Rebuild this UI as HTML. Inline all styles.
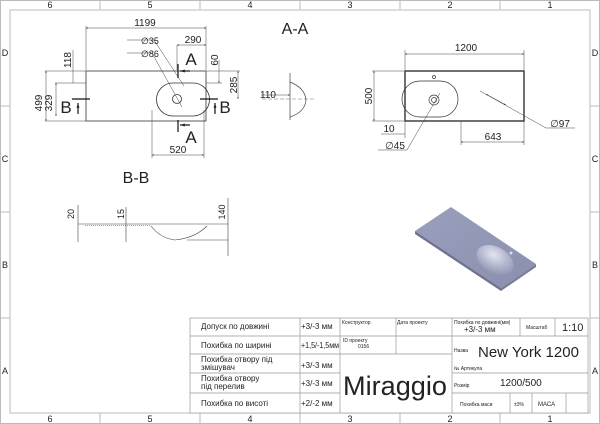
<!DOCTYPE html>
<html><head><meta charset="utf-8"><style>
html,body{margin:0;padding:0;background:#fff;width:600px;height:424px;overflow:hidden}
svg{display:block}
text{font-family:"Liberation Sans","DejaVu Sans",sans-serif;fill:#222}
</style></head><body>
<svg width="600" height="424" viewBox="0 0 600 424" xmlns="http://www.w3.org/2000/svg">
<defs>
<marker id="a" viewBox="0 0 10 10" refX="10" refY="5" markerWidth="5" markerHeight="4" orient="auto-start-reverse"><path d="M0,2 L10,5 L0,8z" fill="#222"/></marker>
<linearGradient id="g" x1="0" y1="0" x2="1" y2="1"><stop offset="0" stop-color="#9a9fbd"/><stop offset="1" stop-color="#8a8fae"/></linearGradient>
<radialGradient id="bw" cx="0.4" cy="0.35" r="0.7"><stop offset="0" stop-color="#e2e4f0"/><stop offset="1" stop-color="#8d92b0"/></radialGradient>
</defs>
<g stroke="#bbb" stroke-width="1" fill="none">
<rect x="0.5" y="0.5" width="599" height="423"/>
<rect x="10" y="10" width="580" height="403"/>
<line x1="100" y1="0" x2="100" y2="10"/><line x1="200" y1="0" x2="200" y2="10"/><line x1="300" y1="0" x2="300" y2="10"/><line x1="400" y1="0" x2="400" y2="10"/><line x1="500" y1="0" x2="500" y2="10"/>
<line x1="100" y1="413" x2="100" y2="424"/><line x1="200" y1="413" x2="200" y2="424"/><line x1="300" y1="413" x2="300" y2="424"/><line x1="400" y1="413" x2="400" y2="424"/><line x1="500" y1="413" x2="500" y2="424"/>
<line x1="0" y1="106" x2="10" y2="106"/><line x1="0" y1="212" x2="10" y2="212"/><line x1="0" y1="318" x2="10" y2="318"/>
<line x1="590" y1="106" x2="600" y2="106"/><line x1="590" y1="212" x2="600" y2="212"/><line x1="590" y1="318" x2="600" y2="318"/>
</g>
<g font-size="9" text-anchor="middle">
<text x="50" y="8">6</text><text x="150" y="8">5</text><text x="250" y="8">4</text><text x="350" y="8">3</text><text x="450" y="8">2</text><text x="550" y="8">1</text>
<text x="50" y="422">6</text><text x="150" y="422">5</text><text x="250" y="422">4</text><text x="350" y="422">3</text><text x="450" y="422">2</text><text x="550" y="422">1</text>
<text x="5" y="56">D</text><text x="5" y="162">C</text><text x="5" y="268">B</text><text x="5" y="374">A</text>
<text x="595" y="56">D</text><text x="595" y="162">C</text><text x="595" y="268">B</text><text x="595" y="374">A</text>
</g>

<g stroke="#333" stroke-width="0.8" fill="none">
<rect x="86" y="71" width="120" height="50"/>
<path d="M173,83 L193,83 A16,16 0 0 1 193,116 L173,116 A16,16 0 0 1 173,83z"/>
<circle cx="177" cy="99" r="4.5"/>
</g>
<g stroke="#444" stroke-width="0.5" fill="none">
<line x1="86" y1="26" x2="86" y2="70"/><line x1="206" y1="26" x2="206" y2="70"/>
<line x1="86" y1="28" x2="206" y2="28" marker-start="url(#a)" marker-end="url(#a)"/>
<line x1="177" y1="45" x2="206" y2="45" marker-start="url(#a)" marker-end="url(#a)"/>
<line x1="177" y1="45" x2="177" y2="70"/>
<line x1="152" y1="110" x2="152" y2="158"/><line x1="204" y1="110" x2="204" y2="158"/>
<line x1="152" y1="155" x2="204" y2="155" marker-start="url(#a)" marker-end="url(#a)"/>
<line x1="45" y1="71" x2="86" y2="71"/><line x1="45" y1="121" x2="86" y2="121"/>
<line x1="46" y1="71" x2="46" y2="121" marker-start="url(#a)" marker-end="url(#a)"/>
<line x1="55" y1="83" x2="86" y2="83"/><line x1="56" y1="83" x2="56" y2="116" marker-start="url(#a)" marker-end="url(#a)"/>
<line x1="73" y1="50" x2="73" y2="83"/>
<line x1="206" y1="71" x2="240" y2="71"/><line x1="206" y1="83" x2="222" y2="83"/>
<line x1="219" y1="60" x2="219" y2="83" marker-end="url(#a)"/>
<line x1="238" y1="71" x2="238" y2="99" marker-start="url(#a)" marker-end="url(#a)"/>
<line x1="127" y1="40" x2="154" y2="40"/><line x1="154" y1="40" x2="184" y2="86"/>
<line x1="127" y1="53" x2="152" y2="53"/><line x1="152" y1="53" x2="182" y2="107"/>
</g>
<g stroke="#111" stroke-width="1.2">
<line x1="178" y1="64" x2="178" y2="78"/><line x1="178" y1="120" x2="178" y2="132"/>
<line x1="72" y1="99" x2="90" y2="99"/><line x1="200" y1="99" x2="218" y2="99"/>
<line x1="190" y1="71" x2="180" y2="71" marker-end="url(#a)"/><line x1="190" y1="125" x2="180" y2="125" marker-end="url(#a)"/>
<line x1="78" y1="114" x2="78" y2="103" marker-end="url(#a)"/><line x1="215" y1="114" x2="215" y2="103" marker-end="url(#a)"/>
</g>
<g font-size="10" text-anchor="middle">
<text x="145" y="26">1199</text><text x="193" y="43">290</text><text x="178" y="153">520</text>
<text x="141" y="44" text-anchor="start" font-size="9">∅35</text><text x="141" y="57" text-anchor="start" font-size="9">∅86</text>
<text transform="translate(71,60) rotate(-90)">118</text>
<text transform="translate(42,103) rotate(-90)">499</text>
<text transform="translate(52,103) rotate(-90)">329</text>
<text transform="translate(218,60) rotate(-90)">60</text>
<text transform="translate(237,85) rotate(-90)">285</text>
</g>
<g font-size="17" text-anchor="middle"><text x="191" y="65">A</text><text x="191" y="143">A</text><text x="66" y="113">B</text><text x="225" y="113">B</text></g>
<text x="295" y="34" font-size="16" text-anchor="middle">A-A</text>
<text x="136" y="183" font-size="16" text-anchor="middle">B-B</text>

<g stroke="#444" stroke-width="0.7" fill="none">
<line x1="290" y1="73" x2="290" y2="120"/>
<path d="M290,82 Q305,88 306,100 Q305,112 290,117"/>
<line x1="262" y1="99" x2="314" y2="99" stroke-dasharray="4 2" stroke-width="0.4"/>
<line x1="261" y1="95" x2="290" y2="95" stroke-width="0.5" marker-end="url(#a)"/>
</g>
<text x="268" y="98" font-size="10" text-anchor="middle">110</text>

<g stroke="#444" stroke-width="0.6" fill="none">
<line x1="78" y1="224" x2="210" y2="224"/>
<line x1="85" y1="225.5" x2="150" y2="225.5" stroke-dasharray="1 1"/>
<path d="M151,226 Q160,238 175,240 Q195,238 207,226"/>
<line x1="78" y1="205" x2="78" y2="242"/><line x1="126" y1="207" x2="126" y2="242"/>
<line x1="228" y1="198" x2="228" y2="256"/><line x1="187" y1="240" x2="228" y2="240"/>
<line x1="210" y1="224" x2="228" y2="224"/>
</g>
<g font-size="9" text-anchor="middle">
<text transform="translate(74,214) rotate(-90)">20</text>
<text transform="translate(124,214) rotate(-90)">15</text>
<text transform="translate(225,212) rotate(-90)">140</text>
</g>

<g stroke="#333" stroke-width="1.4" fill="none"><rect x="405" y="71" width="119" height="50"/></g>
<g stroke="#333" stroke-width="0.7" fill="none">
<path d="M420,81 L440,81 A16,16 0 0 1 440,117 L420,117 A16,16 0 0 1 420,81z"/>
<circle cx="434" cy="77" r="1.5"/><circle cx="434" cy="100" r="5"/><circle cx="434" cy="100" r="2.5"/>
</g>
<g stroke="#444" stroke-width="0.5" fill="none">
<line x1="405" y1="50" x2="405" y2="70"/><line x1="524" y1="50" x2="524" y2="70"/>
<line x1="405" y1="54" x2="524" y2="54" marker-start="url(#a)" marker-end="url(#a)"/>
<line x1="372" y1="71" x2="404" y2="71"/><line x1="372" y1="121" x2="404" y2="121"/>
<line x1="374" y1="71" x2="374" y2="121" marker-start="url(#a)" marker-end="url(#a)"/>
<line x1="405" y1="121" x2="405" y2="138"/><line x1="381" y1="134" x2="405" y2="134"/>
<line x1="461" y1="121" x2="461" y2="145"/><line x1="524" y1="121" x2="524" y2="145"/>
<line x1="461" y1="142" x2="524" y2="142" marker-start="url(#a)" marker-end="url(#a)"/>
<line x1="378" y1="150" x2="407" y2="150"/><line x1="407" y1="150" x2="440" y2="93"/>
<line x1="480" y1="91" x2="546" y2="128"/><line x1="546" y1="128" x2="575" y2="128"/>
<line x1="486" y1="94" x2="506" y2="105" marker-start="url(#a)" marker-end="url(#a)"/>
</g>
<g font-size="10" text-anchor="middle">
<text x="466" y="51">1200</text><text x="389" y="132">10</text><text x="493" y="140">643</text>
<text x="395" y="149">∅45</text><text x="560" y="127">∅97</text>
<text transform="translate(372,96) rotate(-90)">500</text>
</g>

<polygon points="415,231 451,207 536,264 501,288" fill="url(#g)"/>
<polygon points="415,231 501,288 501,291 415,234" fill="#6f7390"/>
<polygon points="501,288 536,264 536,267 501,291" fill="#7a7e9a"/>
<ellipse cx="495" cy="260" rx="20" ry="13" transform="rotate(30 495 260)" fill="url(#bw)"/>
<circle cx="511" cy="253" r="1.5" fill="#dde"/>

<g stroke="#999" stroke-width="0.7" fill="none">
<rect x="190" y="318" width="398" height="95" fill="#fff"/>
<line x1="190" y1="336" x2="340" y2="336"/><line x1="190" y1="354" x2="340" y2="354"/><line x1="190" y1="373" x2="340" y2="373"/><line x1="190" y1="393" x2="340" y2="393"/>
<line x1="300" y1="318" x2="300" y2="413"/><line x1="340" y1="318" x2="340" y2="413"/>
<line x1="396" y1="318" x2="396" y2="354"/><line x1="452" y1="318" x2="452" y2="413"/>
<line x1="340" y1="336" x2="452" y2="336"/><line x1="340" y1="354" x2="452" y2="354"/>
<line x1="452" y1="336" x2="588" y2="336"/><line x1="452" y1="373" x2="588" y2="373"/><line x1="452" y1="393" x2="588" y2="393"/>
<line x1="520" y1="318" x2="520" y2="336"/><line x1="555" y1="318" x2="555" y2="336"/>
<line x1="510" y1="393" x2="510" y2="413"/><line x1="532" y1="393" x2="532" y2="413"/><line x1="566" y1="393" x2="566" y2="413"/>
</g>
<g>
<text x="201" y="329" font-size="8">Допуск по довжині</text>
<text x="201" y="348" font-size="8">Похибка по ширині</text>
<text x="201" y="362" font-size="8">Похибка отвору під</text><text x="201" y="370" font-size="8">змішувач</text>
<text x="201" y="381" font-size="8">Похибка отвору</text><text x="201" y="389" font-size="8">під перелив</text>
<text x="201" y="406" font-size="8">Похибка по висоті</text>
<text x="301" y="329" font-size="8">+3/-3 мм</text>
<text x="301" y="348" font-size="8" textLength="38" lengthAdjust="spacingAndGlyphs">+1,5/-1,5мм</text>
<text x="301" y="368" font-size="8">+3/-3 мм</text>
<text x="301" y="386" font-size="8">+3/-3 мм</text>
<text x="301" y="406" font-size="8">+2/-2 мм</text>
<text x="342" y="324" font-size="5">Конструктор</text>
<text x="397" y="324" font-size="5">Дата проекту</text>
<text x="343" y="342" font-size="5">ID проекту</text><text x="358" y="348" font-size="5">0156</text>
<text x="343" y="395" font-size="27" textLength="104" lengthAdjust="spacingAndGlyphs">Miraggio</text>
<text x="454" y="324" font-size="5">Похибка по довжині(мм)</text>
<text x="464" y="332" font-size="8">+3/-3 мм</text>
<text x="526" y="329" font-size="5">Масштаб</text>
<text x="562" y="331" font-size="11">1:10</text>
<text x="454" y="352" font-size="5">Назва</text>
<text x="478" y="357" font-size="15">New York 1200</text>
<text x="454" y="370" font-size="5">№ Артикула</text>
<text x="454" y="387" font-size="5">Розмір</text>
<text x="500" y="386" font-size="10">1200/500</text>
<text x="460" y="406" font-size="5">Похибка маси</text>
<text x="514" y="406" font-size="5">±3%</text>
<text x="538" y="406" font-size="6">МАСА</text>
</g>
</svg>
</body></html>
